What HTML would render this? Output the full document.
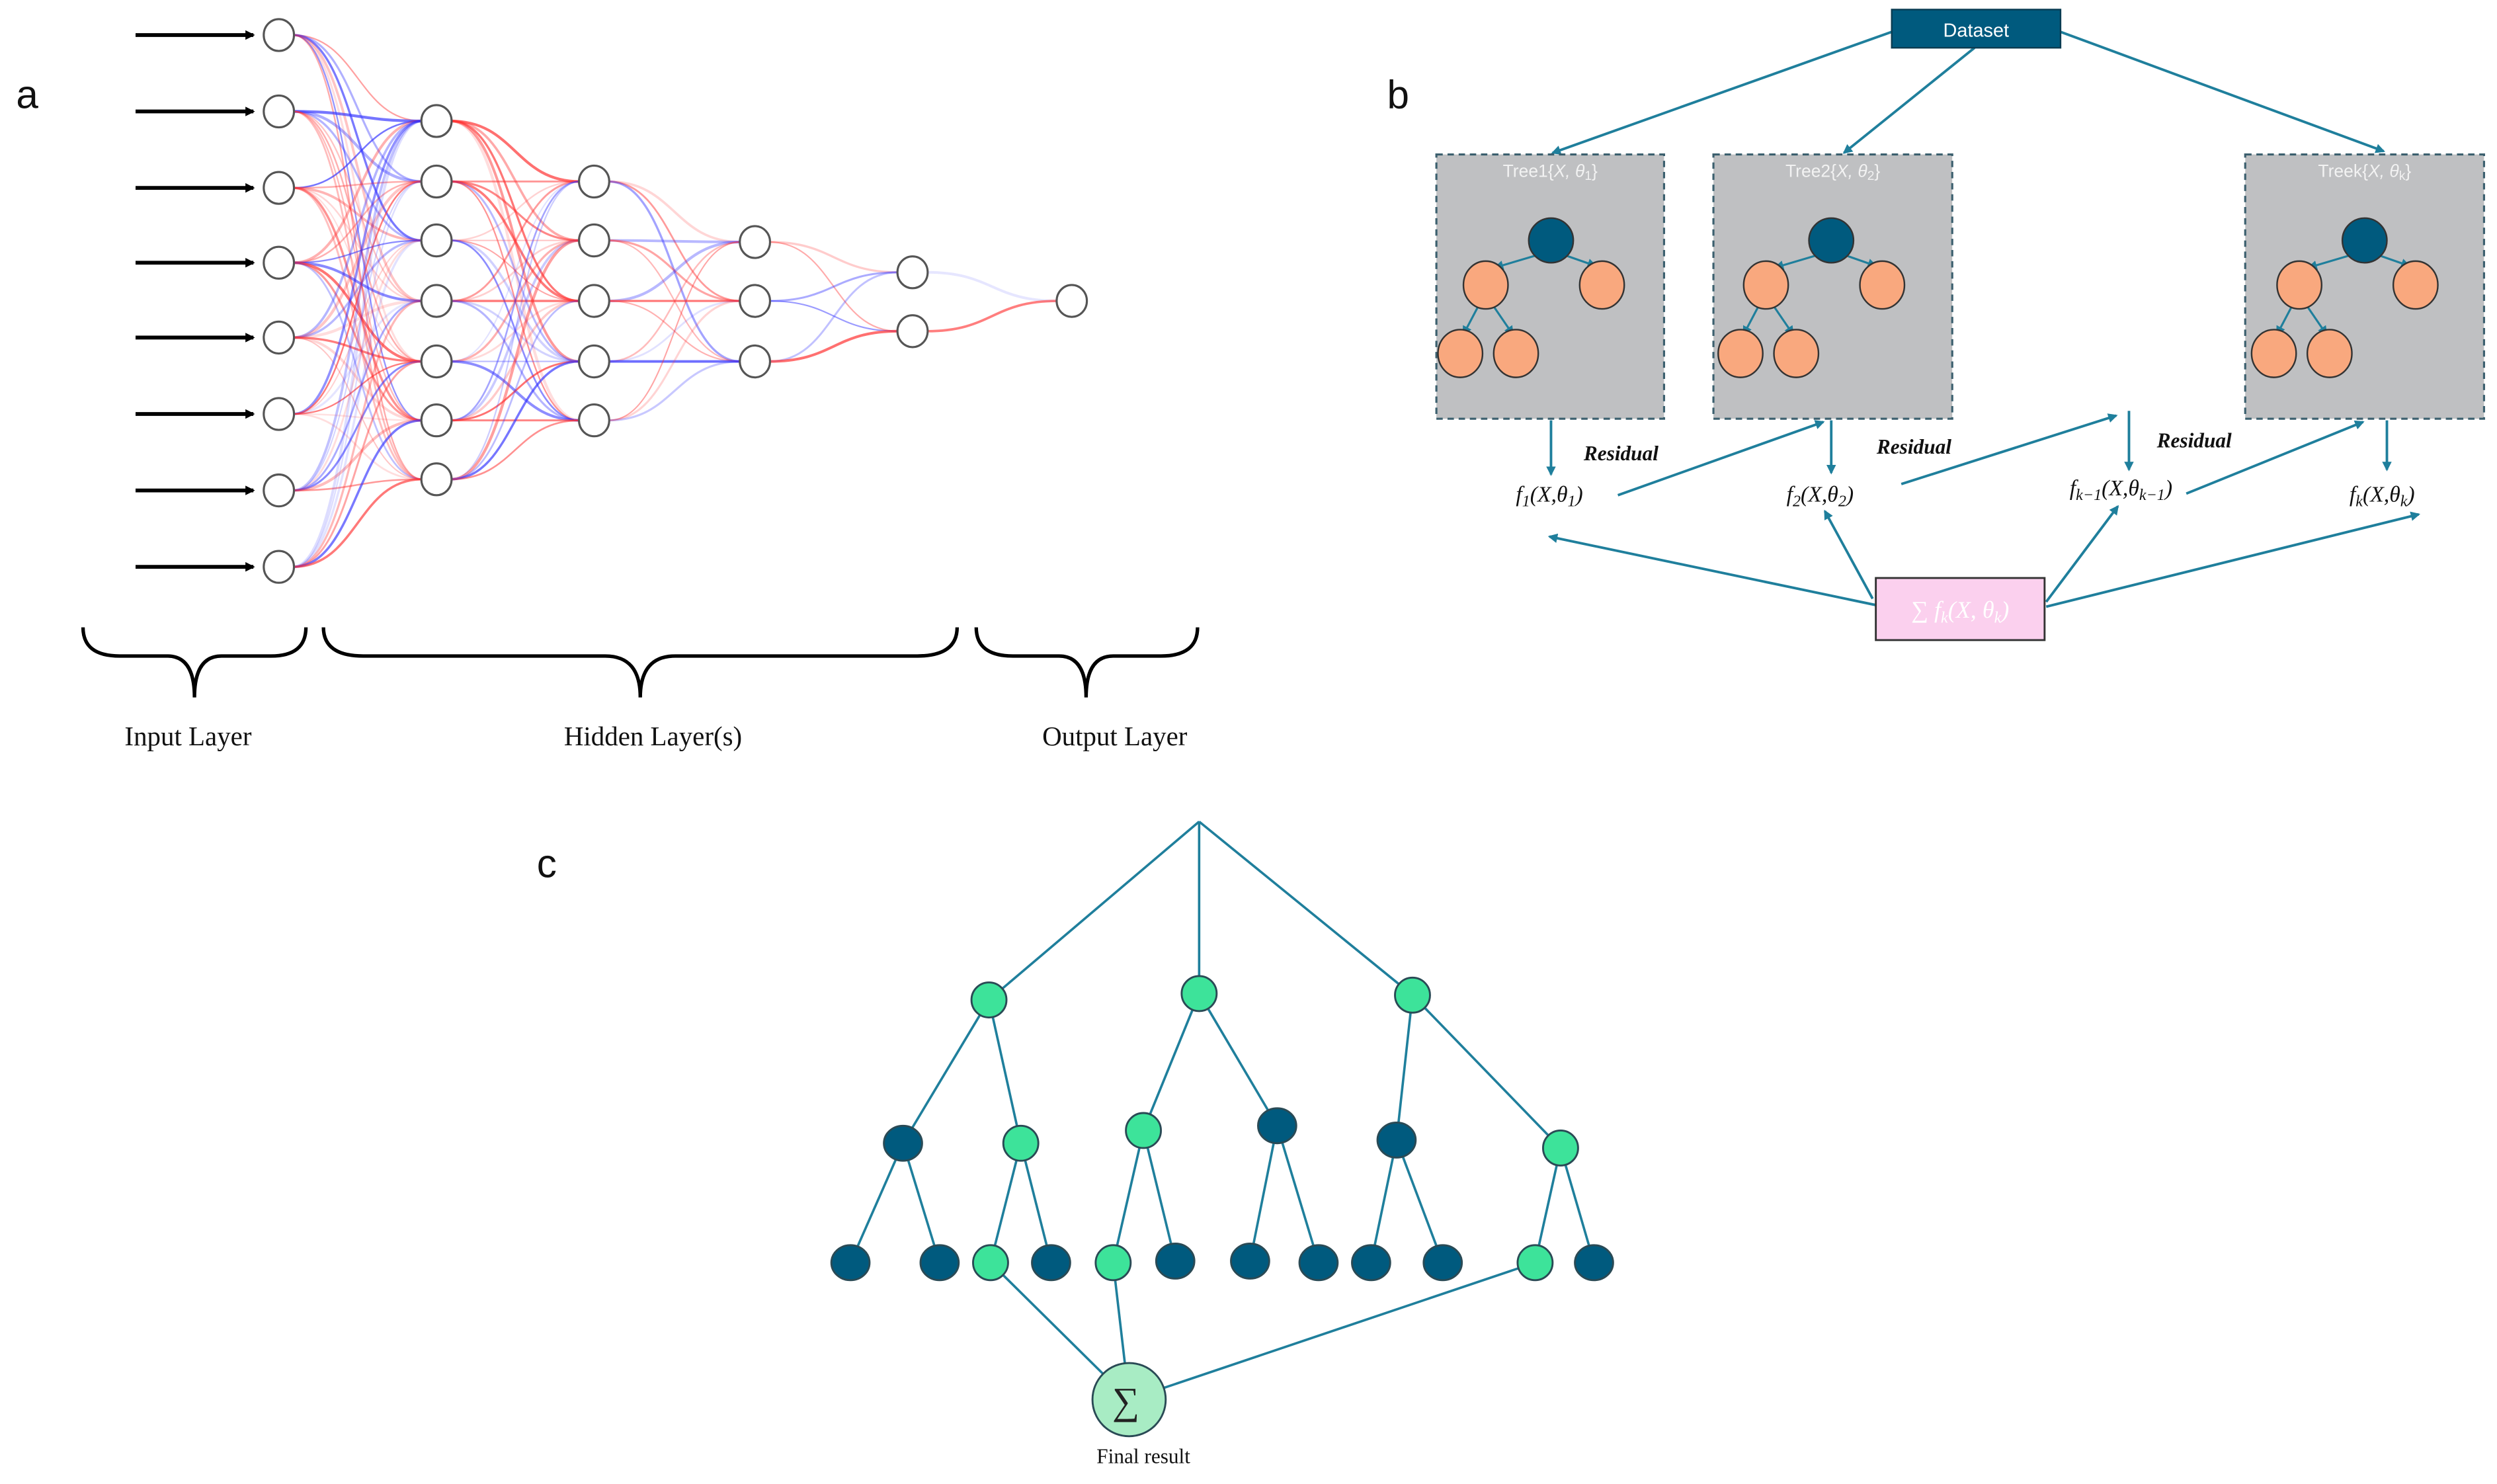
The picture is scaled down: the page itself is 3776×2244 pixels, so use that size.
<!DOCTYPE html>
<html><head><meta charset="utf-8"><style>
html,body{margin:0;padding:0;background:#fff;}
svg{display:block;}
</style></head><body>
<svg id="s" xmlns="http://www.w3.org/2000/svg" width="3776" height="2244" viewBox="0 0 1568 932">
<defs>
<marker id="ab" markerWidth="6" markerHeight="6" refX="5" refY="3" orient="auto" markerUnits="userSpaceOnUse"><path d="M0,0 L6,3 L0,6 z" fill="#000"/></marker>
<marker id="at" markerWidth="6" markerHeight="6" refX="5" refY="3" orient="auto" markerUnits="userSpaceOnUse"><path d="M0,0 L6,3 L0,6 z" fill="#1f7f9c"/></marker>
</defs>
<rect width="1568" height="932" fill="#fff"/>
<g id="edges" fill="none"></g>
<g id="nodes" fill="#fff" stroke="#555" stroke-width="1.3"></g>
<g stroke="#000" stroke-width="2.4" marker-end="url(#ab)">
<line x1="85" y1="22" x2="159" y2="22"/><line x1="85" y1="70" x2="159" y2="70"/>
<line x1="85" y1="118" x2="159" y2="118"/><line x1="85" y1="165" x2="159" y2="165"/>
<line x1="85" y1="212" x2="159" y2="212"/><line x1="85" y1="260" x2="159" y2="260"/>
<line x1="85" y1="308" x2="159" y2="308"/><line x1="85" y1="356" x2="159" y2="356"/>
</g>
<g fill="none" stroke="#000" stroke-width="2.2">
<path d="M52,394 Q52,412 75,412 L105,412 Q122,412 122,438 Q122,412 139,412 L170,412 Q192,412 192,394"/>
<path d="M203,394 Q203,412 228,412 L380,412 Q402,412 402,438 Q402,412 424,412 L576,412 Q601,412 601,394"/>
<path d="M613,394 Q613,412 636,412 L665,412 Q682,412 682,438 Q682,412 699,412 L729,412 Q752,412 752,394"/>
</g>
<g font-family="Liberation Serif, serif" font-size="17" fill="#111" text-anchor="middle">
<text x="118" y="468">Input Layer</text>
<text x="410" y="468">Hidden Layer(s)</text>
<text x="700" y="468">Output Layer</text>
</g>
<g font-family="Liberation Sans, sans-serif" font-size="25" fill="#111">
<text x="10" y="68">a</text><text x="871" y="68">b</text><text x="337" y="551">c</text>
</g>

<!-- panel b -->
<g stroke="#1f7f9c" stroke-width="1.6" fill="none" marker-end="url(#at)">
<line x1="1188" y1="20" x2="975" y2="96"/>
<line x1="1240" y1="30" x2="1158" y2="96"/>
<line x1="1294" y1="20" x2="1497" y2="95"/>
<line x1="974" y1="264" x2="974" y2="298"/>
<line x1="1150" y1="264" x2="1150" y2="297"/>
<line x1="1337" y1="258" x2="1337" y2="295"/>
<line x1="1499" y1="264" x2="1499" y2="295"/>
<line x1="1016" y1="311" x2="1145" y2="265"/>
<line x1="1194" y1="304" x2="1329" y2="261"/>
<line x1="1373" y1="310" x2="1484" y2="265"/>
<line x1="1178" y1="380" x2="973" y2="337"/>
<line x1="1176" y1="376" x2="1146" y2="321"/>
<line x1="1285" y1="378" x2="1330" y2="318"/>
<line x1="1285" y1="381" x2="1519" y2="323"/>
</g>
<rect x="1188" y="6" width="106" height="24" fill="#005a7e" stroke="#0a3c52"/>
<text x="1241" y="23" font-family="Liberation Sans, sans-serif" font-size="12" fill="#fff" text-anchor="middle">Dataset</text>
<g id="trees"></g>
<g font-family="Liberation Serif, serif" font-size="14" fill="#111" font-style="italic" text-anchor="middle">
<text x="1018" y="289" font-size="13" font-weight="bold">Residual</text>
<text x="1202" y="285" font-size="13" font-weight="bold">Residual</text>
<text x="1378" y="281" font-size="13" font-weight="bold">Residual</text>
<text x="973" y="315">f<tspan font-size="10" dy="3">1</tspan><tspan dy="-3">(X,θ</tspan><tspan font-size="10" dy="3">1</tspan><tspan dy="-3">)</tspan></text>
<text x="1143" y="315">f<tspan font-size="10" dy="3">2</tspan><tspan dy="-3">(X,θ</tspan><tspan font-size="10" dy="3">2</tspan><tspan dy="-3">)</tspan></text>
<text x="1332" y="311">f<tspan font-size="10" dy="3">k−1</tspan><tspan dy="-3">(X,θ</tspan><tspan font-size="10" dy="3">k−1</tspan><tspan dy="-3">)</tspan></text>
<text x="1496" y="315">f<tspan font-size="10" dy="3">k</tspan><tspan dy="-3">(X,θ</tspan><tspan font-size="10" dy="3">k</tspan><tspan dy="-3">)</tspan></text>
</g>
<rect x="1178" y="363" width="106" height="39" fill="#fbd0ee" stroke="#333" stroke-width="1.2"/>
<text x="1231" y="388" font-family="Liberation Serif, serif" font-size="15" font-style="italic" fill="#fff" text-anchor="middle">∑ f<tspan font-size="10" dy="3">k</tspan><tspan dy="-3">(X, θ</tspan><tspan font-size="10" dy="3">k</tspan><tspan dy="-3">)</tspan></text>

<!-- panel c -->
<g stroke="#1f7f9c" stroke-width="1.5">
<line x1="753" y1="516" x2="621" y2="628"/><line x1="753" y1="516" x2="753" y2="624"/><line x1="753" y1="516" x2="887" y2="625"/>
<line x1="621" y1="628" x2="567" y2="718"/><line x1="621" y1="628" x2="641" y2="718"/>
<line x1="753" y1="624" x2="718" y2="710"/><line x1="753" y1="624" x2="802" y2="707"/>
<line x1="887" y1="625" x2="877" y2="716"/><line x1="887" y1="625" x2="980" y2="721"/>
<line x1="567" y1="718" x2="534" y2="793"/><line x1="567" y1="718" x2="590" y2="793"/>
<line x1="641" y1="718" x2="622" y2="793"/><line x1="641" y1="718" x2="660" y2="793"/>
<line x1="718" y1="710" x2="699" y2="793"/><line x1="718" y1="710" x2="738" y2="792"/>
<line x1="802" y1="707" x2="785" y2="792"/><line x1="802" y1="707" x2="828" y2="793"/>
<line x1="877" y1="716" x2="861" y2="793"/><line x1="877" y1="716" x2="906" y2="793"/>
<line x1="980" y1="721" x2="964" y2="793"/><line x1="980" y1="721" x2="1001" y2="793"/>
<line x1="622" y1="793" x2="709" y2="879"/><line x1="699" y1="793" x2="709" y2="879"/><line x1="964" y1="793" x2="709" y2="879"/>
</g>
<g stroke="#2a4a55" stroke-width="1.2">
<g fill="#3de39a">
<ellipse cx="621" cy="628" rx="11" ry="11"/><ellipse cx="753" cy="624" rx="11" ry="11"/><ellipse cx="887" cy="625" rx="11" ry="11"/>
<ellipse cx="641" cy="718" rx="11" ry="11"/><ellipse cx="718" cy="710" rx="11" ry="11"/><ellipse cx="980" cy="721" rx="11" ry="11"/>
<ellipse cx="622" cy="793" rx="11" ry="11"/><ellipse cx="699" cy="793" rx="11" ry="11"/><ellipse cx="964" cy="793" rx="11" ry="11"/>
</g>
<g fill="#005a7e">
<ellipse cx="567" cy="718" rx="12" ry="11"/><ellipse cx="802" cy="707" rx="12" ry="11"/><ellipse cx="877" cy="716" rx="12" ry="11"/>
<ellipse cx="534" cy="793" rx="12" ry="11"/><ellipse cx="590" cy="793" rx="12" ry="11"/><ellipse cx="660" cy="793" rx="12" ry="11"/>
<ellipse cx="738" cy="792" rx="12" ry="11"/><ellipse cx="785" cy="792" rx="12" ry="11"/><ellipse cx="828" cy="793" rx="12" ry="11"/>
<ellipse cx="861" cy="793" rx="12" ry="11"/><ellipse cx="906" cy="793" rx="12" ry="11"/><ellipse cx="1001" cy="793" rx="12" ry="11"/>
</g>
<ellipse cx="709" cy="879" rx="23" ry="23" fill="#a8ecc4"/>
</g>
<text x="707" y="888" font-family="Liberation Serif, serif" font-size="24" fill="#222" text-anchor="middle">∑</text>
<text x="718" y="919" font-family="Liberation Serif, serif" font-size="13" fill="#111" text-anchor="middle">Final result</text>
</svg>
<script>
(function(){
var NS="http://www.w3.org/2000/svg";
var L=[[175,[22,70,118,165,212,260,308,356]],[274,[76,114,151,189,227,264,301]],[373,[114,151,189,227,264]],[474,[152,189,227]],[573,[171,208]],[673,[189]]];
var seed=7;function r(){seed=(seed*9301+49297)%233280;return seed/233280;}
var eg=document.getElementById('edges'),ng=document.getElementById('nodes');
for(var l=0;l<L.length-1;l++){var a=L[l],b=L[l+1];var mx=(a[0]+b[0])/2;
for(var i=0;i<a[1].length;i++)for(var j=0;j<b[1].length;j++){
var p=document.createElementNS(NS,'path');var y1=a[1][i],y2=b[1][j];
p.setAttribute('d','M'+(a[0]+9)+','+y1+' C'+mx+','+y1+' '+mx+','+y2+' '+(b[0]-9)+','+y2);
var blue=r()<0.4;p.setAttribute('stroke',blue?'#3333ff':'#ff3333');
p.setAttribute('stroke-opacity',(0.12+r()*0.6).toFixed(2));p.setAttribute('stroke-width',(0.8+r()*1.0).toFixed(2));eg.appendChild(p);}}
for(var l=0;l<L.length;l++)for(var i=0;i<L[l][1].length;i++){var c=document.createElementNS(NS,'ellipse');
c.setAttribute('cx',L[l][0]);c.setAttribute('cy',L[l][1][i]);c.setAttribute('rx',9.5);c.setAttribute('ry',10);ng.appendChild(c);}
var tg=document.getElementById('trees');
var T=[[902,143,'Tree1',0,'1'],[1076,150,'Tree2',176,'2'],[1410,150,'Treek',511,'k']];
T.forEach(function(t){var h='';
h+='<rect x="'+t[0]+'" y="97" width="'+t[1]+'" height="166" fill="#bfc0c2" stroke="#3b5f6e" stroke-width="1.3" stroke-dasharray="4,3"/>';
h+='<text x="'+(t[0]+t[1]/2)+'" y="111" font-family="Liberation Sans, sans-serif" font-size="11" fill="#f2f2f2" text-anchor="middle">'+t[2]+'{<tspan font-style="italic">X, θ</tspan><tspan font-size="8" dy="2">'+t[4]+'</tspan><tspan dy="-2">}</tspan></text>';
var o=t[3];var R=[974+o,151],C1=[933+o,179],C2=[1006+o,179],G1=[917+o,222],G2=[952+o,222];
function ln(p,q){h+='<line x1="'+p[0]+'" y1="'+p[1]+'" x2="'+q[0]+'" y2="'+q[1]+'" stroke="#1f7f9c" stroke-width="1.3" marker-end="url(#at)"/>';}
ln([R[0]-8,R[1]+9],[C1[0]+6,C1[1]-11]);ln([R[0]+8,R[1]+9],[C2[0]-4,C2[1]-12]);
ln([C1[0]-4,C1[1]+12],[G1[0]+2,G1[1]-12]);ln([C1[0]+4,C1[1]+12],[G2[0]-2,G2[1]-12]);
h+='<ellipse cx="'+R[0]+'" cy="'+R[1]+'" rx="14" ry="14" fill="#005a7e" stroke="#333"/>';
[C1,C2,G1,G2].forEach(function(p){h+='<ellipse cx="'+p[0]+'" cy="'+p[1]+'" rx="14" ry="15" fill="#f9a87e" stroke="#333"/>';});
var g=document.createElementNS(NS,'g');g.innerHTML=h;tg.appendChild(g);});
})();
</script>
</body></html>
